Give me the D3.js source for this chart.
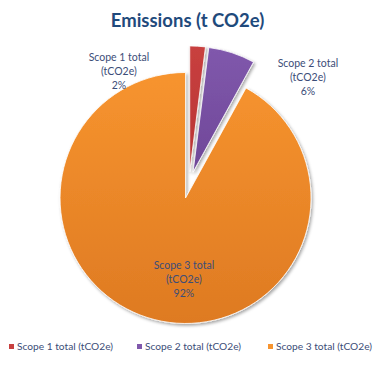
<!DOCTYPE html>
<html>
<head>
<meta charset="utf-8">
<script src="https://cdn.jsdelivr.net/npm/d3@7/dist/d3.min.js"></script>
<style>
  html, body { margin: 0; padding: 0; background: #fff; }
  svg { display: block; }
  text { font-family: Lato, "Open Sans", sans-serif; }
</style>
</head>
<body>
<svg id="chart" width="375" height="366"></svg>
<script>
// Data
const categories = ["Scope 1 total (tCO2e)", "Scope 2 total (tCO2e)", "Scope 3 total (tCO2e)"];
const labelLines = [["Scope 1 total", "(tCO2e)"], ["Scope 2 total", "(tCO2e)"], ["Scope 3 total", "(tCO2e)"]];
const values = [2, 6, 92];
const percentLabels = ["2%", "6%", "92%"];
const colorsTop = ["#C8403F", "#8058AC", "#F7942F"];
const colorsBottom = ["#B83434", "#6F4798", "#DE7A22"];
const title = "Emissions (t CO2e)";

const W = 375, H = 366;
const svg = d3.select("#chart");
const cx = 188.9, cy = 184.9, r = 125.5, explode = 13.5;
const textColor = "#3C4D78";

const defs = svg.append("defs");
const shadow = defs.append("filter").attr("id", "shadow")
  .attr("x", "-20%").attr("y", "-20%").attr("width", "140%").attr("height", "140%");
shadow.append("feDropShadow").attr("dx", 1.5).attr("dy", 1.8).attr("stdDeviation", 1.4)
  .attr("flood-color", "#000").attr("flood-opacity", 0.35);

categories.forEach((c, i) => {
  const g = defs.append("linearGradient").attr("id", "grad" + i)
    .attr("x1", 0).attr("y1", 0).attr("x2", 0).attr("y2", 1);
  g.append("stop").attr("offset", "0%").attr("stop-color", colorsTop[i]);
  g.append("stop").attr("offset", "100%").attr("stop-color", colorsBottom[i]);
});

// Title
svg.append("text")
  .attr("x", W / 2).attr("y", 27)
  .attr("text-anchor", "middle")
  .attr("font-size", 18.5).attr("font-weight", 700)
  .attr("fill", "#1F4A7C")
  .text(title);

const pie = d3.pie().sort(null).value(d => d).startAngle(0).endAngle(2 * Math.PI);
const arcs = pie(values);
const arc = d3.arc().innerRadius(0).outerRadius(r);

const pieG = svg.append("g").attr("transform", `translate(${cx},${cy})`);
pieG.selectAll("path.slice")
  .data(arcs)
  .join("path")
  .attr("class", "slice")
  .attr("transform", d => {
    const a = (d.startAngle + d.endAngle) / 2;
    return `translate(${explode * Math.sin(a)},${-explode * Math.cos(a)})`;
  })
  .attr("d", arc)
  .attr("fill", (d, i) => `url(#grad${i})`)
  .attr("stroke", "#fff").attr("stroke-width", 0.8)
  .attr("filter", "url(#shadow)");

// Data labels (offsets relative to pie centre)
const labelPos = [[-70, -124], [119, -118], [-5, 84]];
const lineH = 14;
labelPos.forEach((p, i) => {
  const t = pieG.append("text")
    .attr("text-anchor", "middle")
    .attr("font-size", 10.5)
    .attr("fill", textColor);
  const lines = labelLines[i].concat([percentLabels[i]]);
  lines.forEach((l, k) => {
    t.append("tspan").attr("x", p[0]).attr("y", p[1] + k * lineH).text(l);
  });
});

// Legend
const legendX = [9, 137, 268];
const legendY = 349;
const leg = svg.append("g");
categories.forEach((c, i) => {
  leg.append("rect")
    .attr("x", legendX[i]).attr("y", legendY - 5)
    .attr("width", 5).attr("height", 5)
    .attr("fill", colorsTop[i]);
  leg.append("text")
    .attr("x", legendX[i] + 8).attr("y", legendY + 0.5)
    .attr("font-size", 10.2)
    .attr("fill", textColor)
    .attr("textLength", 96)
    .attr("lengthAdjust", "spacingAndGlyphs")
    .text(c);
});
</script>
</body>
</html>
